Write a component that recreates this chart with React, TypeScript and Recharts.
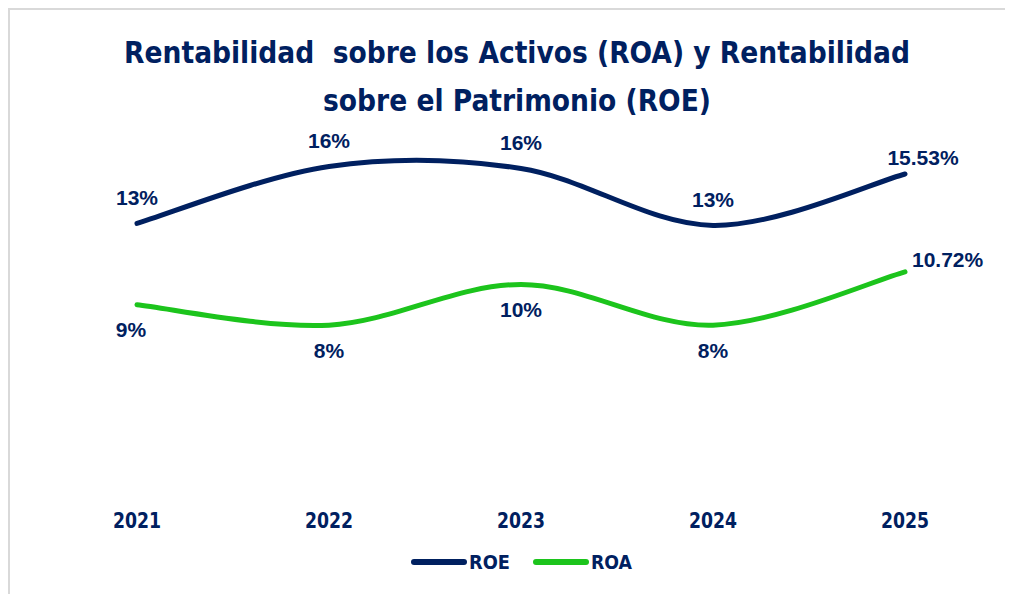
import { LineChart, Line, XAxis, YAxis, Legend, LabelList } from "recharts";

const years = ["2021", "2022", "2023", "2024", "2025"];
const roe = [13.1, 15.9, 15.8, 13.0, 15.53];
const roa = [9.1, 8.1, 10.1, 8.1, 10.72];
const roeLabels = ["13%", "16%", "16%", "13%", "15.53%"];
const roaLabels = ["9%", "8%", "10%", "8%", "10.72%"];
const seriesOrder = ["ROE", "ROA"];

const NAVY = "#002060";
const GREEN = "#1cc41c";
const NARROW = '"Liberation Sans Narrow", "DejaVu Sans Condensed", "Arial Narrow", sans-serif';
const LABEL_FONT = '"Liberation Sans", Arial, sans-serif';

const data = years.map((year, i) => ({ year, ROE: roe[i], ROA: roa[i] }));

// Excel-style smoothing: Catmull-Rom segments as cubic beziers
const excelSmooth = (context: any) => {
  let pts: [number, number][] = [];
  return {
    areaStart() {},
    areaEnd() {},
    lineStart() {
      pts = [];
    },
    point(x: number, y: number) {
      pts.push([+x, +y]);
    },
    lineEnd() {
      const n = pts.length;
      if (!n) return;
      context.moveTo(pts[0][0], pts[0][1]);
      for (let i = 0; i < n - 1; i++) {
        const p0 = pts[Math.max(i - 1, 0)];
        const p1 = pts[i];
        const p2 = pts[i + 1];
        const p3 = pts[Math.min(i + 2, n - 1)];
        context.bezierCurveTo(
          p1[0] + (p2[0] - p0[0]) / 6,
          p1[1] + (p2[1] - p0[1]) / 6,
          p2[0] - (p3[0] - p1[0]) / 6,
          p2[1] - (p3[1] - p1[1]) / 6,
          p2[0],
          p2[1]
        );
      }
    },
  };
};

const labelStyle = { fill: NAVY, fontSize: 21, fontWeight: 700, fontFamily: LABEL_FONT };

const RoeLabel = (props: any) => {
  const { x, y, index } = props;
  const last = index === years.length - 1;
  return (
    <text x={last ? x + 18 : x} y={last ? y - 16 : y - 26} textAnchor="middle" dominantBaseline="central" {...labelStyle}>
      {roeLabels[index]}
    </text>
  );
};

const RoaLabel = (props: any) => {
  const { x, y, index } = props;
  if (index === years.length - 1) {
    return (
      <text x={x + 7} y={y - 12} textAnchor="start" dominantBaseline="central" {...labelStyle}>
        {roaLabels[index]}
      </text>
    );
  }
  return (
    <text x={index === 0 ? x - 6 : x} y={y + 25} textAnchor="middle" dominantBaseline="central" {...labelStyle}>
      {roaLabels[index]}
    </text>
  );
};

const YearTick = (props: any) => {
  const { x, y, payload } = props;
  return (
    <text
      x={x}
      y={y + 23}
      textAnchor="middle"
      dominantBaseline="central"
      fill={NAVY}
      fontSize={21}
      fontWeight={700}
      fontFamily={NARROW}
      textLength={48}
      lengthAdjust="spacingAndGlyphs"
    >
      {payload.value}
    </text>
  );
};

const LegendContent = (props: any) => {
  const items = [...props.payload].sort(
    (a: any, b: any) => seriesOrder.indexOf(a.value) - seriesOrder.indexOf(b.value)
  );
  return (
    <div style={{ display: "flex", justifyContent: "center", alignItems: "center", height: 30, paddingLeft: 22 }}>
      {items.map((p: any) => (
        <svg key={p.value} width={104} height={30} style={{ marginRight: 18, display: "block" }}>
          <line x1={4} y1={15} x2={54} y2={15} stroke={p.color} strokeWidth={6} strokeLinecap="round" />
          <text
            x={59}
            y={15}
            dominantBaseline="central"
            fill={NAVY}
            fontSize={19}
            fontWeight={700}
            fontFamily={NARROW}
            textLength={41}
            lengthAdjust="spacingAndGlyphs"
          >
            {p.value}
          </text>
        </svg>
      ))}
    </div>
  );
};

export default function App() {
  return (
    <div
      style={{
        position: "relative",
        width: 1005,
        height: 590,
        borderTop: "2px solid #d9d9d9",
        borderLeft: "2px solid #d9d9d9",
        background: "#fff",
      }}
    >
      <div
        style={{
          position: "absolute",
          left: 0,
          top: 19,
          width: 1014,
          textAlign: "center",
          color: NAVY,
          fontFamily: NARROW,
          fontWeight: 700,
          fontSize: 29.5,
          lineHeight: "48px",
        }}
      >
        Rentabilidad&nbsp; sobre los Activos (ROA) y Rentabilidad
        <br />
        sobre el Patrimonio (ROE)
      </div>
      <LineChart width={1003} height={580} data={data} margin={{ top: 73, right: 12, left: 31, bottom: 13 }}>
        <XAxis
          dataKey="year"
          axisLine={false}
          tickLine={false}
          height={57}
          padding={{ left: 96, right: 96 }}
          tick={YearTick}
        />
        <YAxis hide domain={[0, 20]} />
        <Legend verticalAlign="bottom" height={30} content={LegendContent} />
        <Line
          dataKey="ROE"
          type={excelSmooth as any}
          stroke={NAVY}
          strokeWidth={5}
          strokeLinecap="round"
          dot={false}
          activeDot={false}
          isAnimationActive={false}
        >
          <LabelList dataKey="ROE" content={RoeLabel} />
        </Line>
        <Line
          dataKey="ROA"
          type={excelSmooth as any}
          stroke={GREEN}
          strokeWidth={5}
          strokeLinecap="round"
          dot={false}
          activeDot={false}
          isAnimationActive={false}
        >
          <LabelList dataKey="ROA" content={RoaLabel} />
        </Line>
      </LineChart>
    </div>
  );
}
